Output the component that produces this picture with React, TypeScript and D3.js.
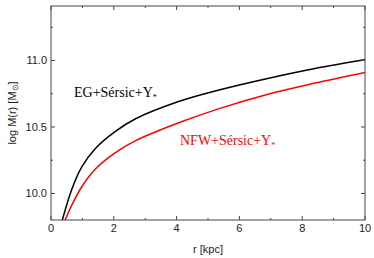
import React from "react";
import * as d3 from "d3";

// radius in kpc and log M(r)
const egRadius = [0.36, 0.66, 0.98, 1.4, 2.04, 2.68, 4.11, 5.38, 6.9, 8.41, 10];
const egLogMass = [9.8, 10.03, 10.2, 10.335, 10.465, 10.56, 10.695, 10.78, 10.865, 10.94, 11.005];

const nfwRadius = [0.45, 0.66, 0.98, 1.4, 2.04, 2.68, 4.11, 5.38, 6.97, 8.41, 10];
const nfwLogMass = [9.8, 9.91, 10.05, 10.18, 10.305, 10.395, 10.535, 10.64, 10.75, 10.83, 10.91];

const xMajorTicks = [0, 2, 4, 6, 8, 10];
const xMinorTicks = [1, 3, 5, 7, 9];
const yMajorTicks = [10.0, 10.5, 11.0];
const yMinorTicks = [10.25, 10.75, 11.25];

const W = 374;
const H = 258;
const margin = { top: 6, right: 9, bottom: 38, left: 51 };

export default function App() {
  const x = d3
    .scaleLinear()
    .domain([0, 10])
    .range([margin.left, W - margin.right]);
  const y = d3
    .scaleLinear()
    .domain([9.8, 11.41])
    .range([H - margin.bottom, margin.top]);

  const line = d3
    .line<[number, number]>()
    .x((d) => x(d[0]))
    .y((d) => y(d[1]))
    .curve(d3.curveCatmullRom.alpha(0.5));

  const egPath = line(egRadius.map((r, i) => [r, egLogMass[i]]));
  const nfwPath = line(nfwRadius.map((r, i) => [r, nfwLogMass[i]]));

  const x0 = x(0), x1 = x(10);
  const yb = y.range()[0], yt = y.range()[1];
  const axisColor = "#444";
  const sans = "'Liberation Sans', Arial, sans-serif";
  const serif = "'Liberation Serif', 'Times New Roman', serif";

  return (
    <svg width={W} height={H} style={{ position: "absolute", left: 0, top: 0 }}>
      <defs>
        <clipPath id="plot">
          <rect x={x0} y={yt} width={x1 - x0} height={yb - yt} />
        </clipPath>
      </defs>

      <g clipPath="url(#plot)" fill="none" strokeWidth={1.5}>
        <path d={egPath} stroke="#000" />
        <path d={nfwPath} stroke="#f00" />
      </g>

      {/* frame */}
      <rect x={x0} y={yt} width={x1 - x0} height={yb - yt} fill="none" stroke={axisColor} strokeWidth={1} />

      {/* x ticks, bottom and top */}
      {xMajorTicks.map((t) => (
        <g key={"xM" + t}>
          <line x1={x(t)} x2={x(t)} y1={yb} y2={yb - 4} stroke={axisColor} />
          <line x1={x(t)} x2={x(t)} y1={yt} y2={yt + 4} stroke={axisColor} />
          <text x={x(t)} y={yb + 12} textAnchor="middle" fontFamily={sans} fontSize={11} fill="#222">
            {t}
          </text>
        </g>
      ))}
      {xMinorTicks.map((t) => (
        <g key={"xm" + t}>
          <line x1={x(t)} x2={x(t)} y1={yb} y2={yb - 2} stroke={axisColor} />
          <line x1={x(t)} x2={x(t)} y1={yt} y2={yt + 2} stroke={axisColor} />
        </g>
      ))}

      {/* y ticks, left and right */}
      {yMajorTicks.map((t) => (
        <g key={"yM" + t}>
          <line x1={x0} x2={x0 + 4} y1={y(t)} y2={y(t)} stroke={axisColor} />
          <line x1={x1} x2={x1 - 4} y1={y(t)} y2={y(t)} stroke={axisColor} />
          <text x={x0 - 4} y={y(t) + 4} textAnchor="end" fontFamily={sans} fontSize={11} fill="#222">
            {d3.format(".1f")(t)}
          </text>
        </g>
      ))}
      {yMinorTicks.map((t) => (
        <g key={"ym" + t}>
          <line x1={x0} x2={x0 + 2} y1={y(t)} y2={y(t)} stroke={axisColor} />
          <line x1={x1} x2={x1 - 2} y1={y(t)} y2={y(t)} stroke={axisColor} />
        </g>
      ))}

      {/* axis titles */}
      <text x={(x0 + x1) / 2} y={253} textAnchor="middle" fontFamily={sans} fontSize={11} fill="#222">
        r [kpc]
      </text>
      <text
        transform={`translate(16,${(yt + yb) / 2}) rotate(-90)`}
        textAnchor="middle"
        fontFamily={sans}
        fontSize={11}
        fill="#222"
      >
        log M(r) [M<tspan fontSize={8} dy={2}>⊙</tspan>
        <tspan dy={-2}>]</tspan>
      </text>

      {/* curve labels */}
      <text x={74} y={97} fontFamily={serif} fontSize={14} fill="#000">
        EG+Sérsic+Υ<tspan fontSize={8} dy={3}>*</tspan>
      </text>
      <text x={180} y={145} fontFamily={serif} fontSize={14} fill="#f00">
        NFW+Sérsic+Υ<tspan fontSize={8} dy={3}>*</tspan>
      </text>
    </svg>
  );
}
